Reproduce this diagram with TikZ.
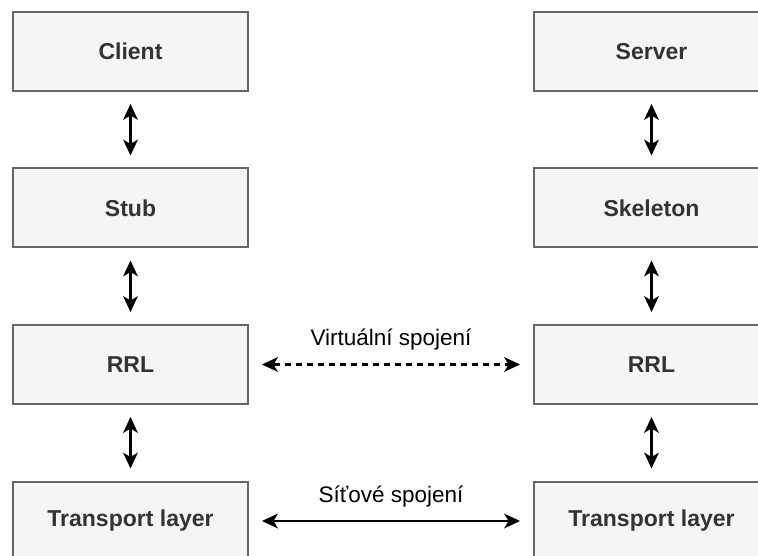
\documentclass[tikz,border=0pt]{standalone}
\usepackage{fontspec}
\setmainfont{Liberation Sans}
\usetikzlibrary{arrows.meta}
\definecolor{boxfill}{HTML}{F5F5F5}
\definecolor{boxline}{HTML}{666666}
\definecolor{boxtext}{HTML}{333333}
\tikzset{
  layerbox/.style={draw=boxline, fill=boxfill, line width=2pt, minimum width=235pt, minimum height=79pt,
    inner sep=0pt, text=boxtext, font=\fontsize{23}{27}\selectfont\bfseries},
  headtip/.tip={Stealth[length=16pt,width=15pt,inset=4.5pt,line width=0pt]},
  link/.style={line width=2.2pt, draw=black, headtip-headtip},
  linklabel/.style={font=\fontsize{22.5}{26}\selectfont, text=black, inner sep=0pt}
}
\begin{document}
\begin{tikzpicture}[x=1pt, y=-1pt]
  \useasboundingbox (0,0) rectangle (758,556);
  % left stack
  \node[layerbox] (client) at (130.5,51.5) {Client};
  \node[layerbox] (stub)   at (130.5,208) {Stub};
  \node[layerbox] (rrlL)   at (130.5,364.5) {RRL};
  \node[layerbox] (tpL)    at (130.5,521) {Transport layer};
  % right stack
  \node[layerbox] (server) at (651.5,51.5) {Server};
  \node[layerbox] (skel)   at (651.5,208) {Skeleton};
  \node[layerbox] (rrlR)   at (651.5,364.5) {RRL};
  \node[layerbox] (tpR)    at (651.5,521) {Transport layer};
  % vertical links (12pt clear of each box)
  \draw[link] ([yshift=-12pt]client.south) -- ([yshift=12pt]stub.north);
  \draw[link] ([yshift=-12pt]stub.south) -- ([yshift=12pt]rrlL.north);
  \draw[link] ([yshift=-12pt]rrlL.south) -- ([yshift=12pt]tpL.north);
  \draw[link] ([yshift=-12pt]server.south) -- ([yshift=12pt]skel.north);
  \draw[link] ([yshift=-12pt]skel.south) -- ([yshift=12pt]rrlR.north);
  \draw[link] ([yshift=-12pt]rrlR.south) -- ([yshift=12pt]tpR.north);
  % horizontal links
  \draw[link, dash pattern=on 6pt off 5pt] ([xshift=13pt]rrlL.east) -- node[linklabel, above=13pt] (virt) {Virtuální spojení} ([xshift=-13pt]rrlR.west);
  \draw[link] ([xshift=13pt]tpL.east) -- node[linklabel, above=13pt] (net) {Síťové spojení} ([xshift=-13pt]tpR.west);
\end{tikzpicture}
\end{document}
